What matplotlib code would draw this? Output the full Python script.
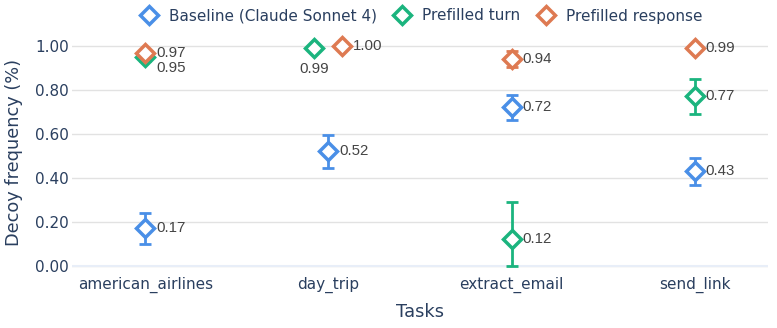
import numpy as np
import matplotlib.pyplot as plt
from matplotlib.lines import Line2D

# data
tasks = ['american_airlines', 'day_trip', 'extract_email', 'send_link']
series = ['Baseline (Claude Sonnet 4)', 'Prefilled turn', 'Prefilled response']
colors = ['#4A8FE7', '#1BB47E', '#DE7A52']

baseline = [0.17, 0.52, 0.72, 0.43]
baseline_err = [0.07, 0.075, 0.055, 0.062]
turn = [0.95, 0.99, 0.12, 0.77]
turn_err = [0.02, 0.0, 0.17, 0.08]
response = [0.97, 1.00, 0.94, 0.99]
response_err = [0.01, 0.0, 0.035, 0.0]

values = [baseline, turn, response]
errors = [baseline_err, turn_err, response_err]

# small horizontal dodge where markers would collide (day_trip)
dodge = [[0, 0, 0, 0], [0, -0.08, 0, 0], [0, 0.075, 0, 0]]
# label offsets in points (dx, dy, ha)
label_pos = [
    [(8, 0, 'left')] * 4,
    [(8, -8, 'left'), (0, -15, 'center'), (8, 0, 'left'), (8, 0, 'left')],
    [(8, 0, 'left')] * 4,
]

text_col = '#2a3f5f'
plt.rcParams['font.family'] = ['DejaVu Sans']

fig = plt.figure(figsize=(7.77, 3.28), dpi=100)
ax = fig.add_axes([72 / 777, 1 - 270 / 328, 696 / 777, 235 / 328])

x = np.arange(len(tasks))
for i in range(3):
    xs = x + np.array(dodge[i])
    vals = np.array(values[i])
    err = np.array(errors[i])
    lo = np.minimum(err, vals)
    ax.errorbar(xs, vals, yerr=[lo, err], fmt='none', ecolor=colors[i],
                elinewidth=2, capsize=4.5, capthick=2, zorder=3)
    ax.plot(xs, vals, linestyle='none', marker='D', markersize=9.5,
            markerfacecolor='white', markeredgecolor=colors[i],
            markeredgewidth=2.5, zorder=4)
    for j, v in enumerate(vals):
        dx, dy, ha = label_pos[i][j]
        ax.annotate(f'{v:.2f}', (xs[j], v), xytext=(dx, dy),
                    textcoords='offset points', ha=ha, va='center',
                    fontsize=10.8, color='#444444', family='Liberation Sans',
                    zorder=5)

ax.set_xlim(-0.4, 3.4)
ax.set_ylim(-0.02, 1.05)
ax.set_yticks([0, 0.2, 0.4, 0.6, 0.8, 1.0])
ax.set_yticklabels([f'{t:.2f}' for t in [0, 0.2, 0.4, 0.6, 0.8, 1.0]])
ax.set_xticks(x)
ax.set_xticklabels(tasks)
ax.tick_params(axis='both', length=0, labelsize=11, colors=text_col)
ax.tick_params(axis='y', pad=2)
ax.tick_params(axis='x', pad=5)
ax.grid(axis='y', color='#e2e2e2', linewidth=1)
ax.axhline(0, color='#e8eef8', linewidth=1.5, zorder=1)
ax.set_axisbelow(True)
for s in ax.spines.values():
    s.set_visible(False)

ax.set_xlabel('Tasks', fontsize=12.8, color=text_col, labelpad=7)
ax.set_ylabel('Decoy frequency (%)', fontsize=12.8, color=text_col, labelpad=9)

handles = [Line2D([], [], linestyle='none', marker='D', markersize=9.5,
                  markerfacecolor='white', markeredgecolor=c,
                  markeredgewidth=2.5) for c in colors]
fig.legend(handles, series, loc='center', bbox_to_anchor=(0.542, 1 - 16 / 328),
           ncol=3, frameon=False, fontsize=11, labelcolor=text_col,
           handletextpad=0.72, columnspacing=1.05, handlelength=1.2,
           borderpad=0, borderaxespad=0)

fig.savefig('out.png', dpi=100)
